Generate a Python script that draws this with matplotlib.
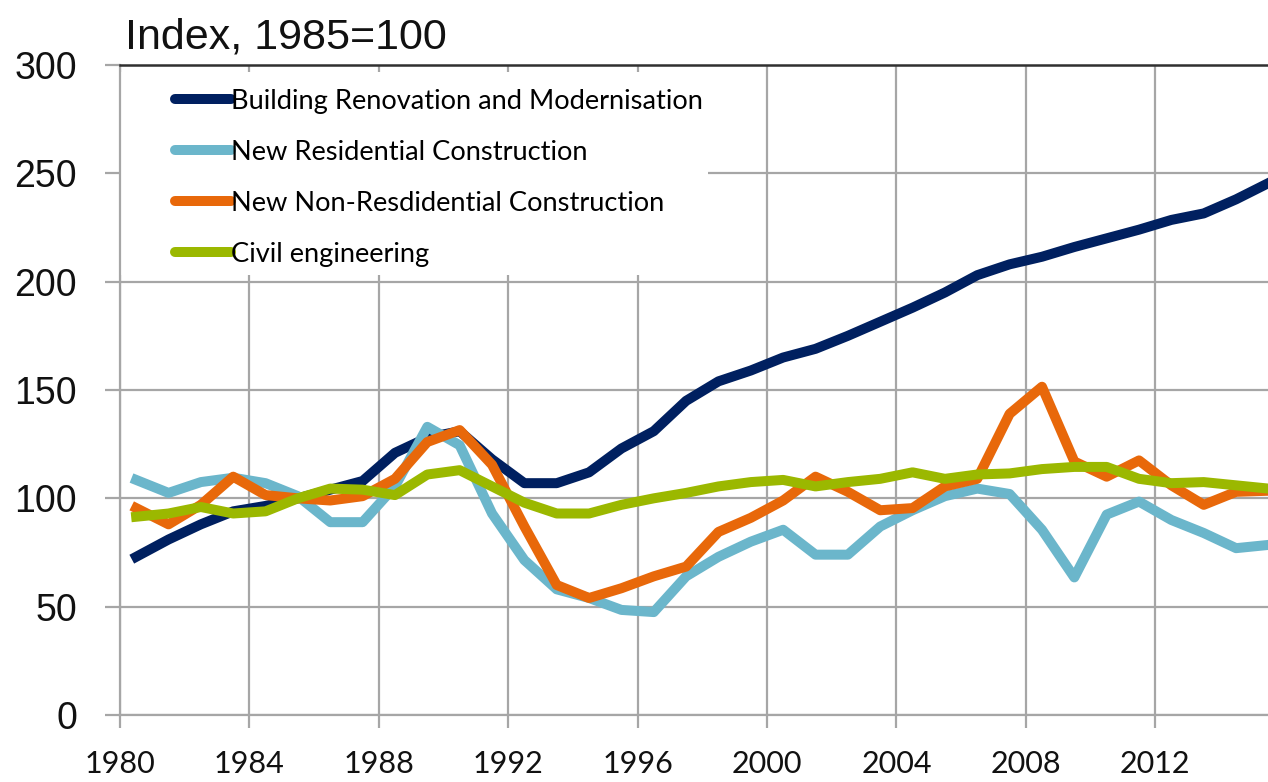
import matplotlib
matplotlib.use('Agg')
import matplotlib.pyplot as plt
import matplotlib.patches as mpatches
import numpy as np

years = np.arange(1980, 2016)

renovation = [73, 81, 88, 94, 96.5, 100, 104, 108, 121, 128, 131, 118, 107, 107, 112, 123, 131, 145, 154,
              159, 165, 169, 175, 181.5, 188, 195, 203, 208, 211.5, 216, 220, 224, 228.5, 231.5, 238, 245.5]
residential = [108.5, 102.5, 107.5, 109.5, 107, 101, 89, 89, 105.5, 133, 124.5, 93, 71.5, 58, 54, 48.5, 47.5,
               64, 73, 80, 85.5, 74, 74, 87, 94.5, 101, 104.5, 102, 85.5, 63.5, 92.5, 98.5, 90, 84, 77, 78.5]
non_residential = [95.5, 88, 97, 110, 101.5, 100, 99, 101, 109, 126, 131.5, 115.5, 87, 60, 54, 58.5, 64,
                   68.5, 84.5, 91, 99, 110, 103, 94.5, 95.5, 105.5, 109, 139, 151.5, 117, 110, 117.5, 106,
                   97, 103, 103.5]
civil = [91.5, 93, 96, 93, 94, 100, 104.5, 104, 101.5, 111, 113, 105.5, 98, 93, 93, 97, 100, 102.5, 105.5,
         107.5, 108.5, 105.5, 107.5, 109, 112, 109, 111, 111.5, 113.5, 114.5, 114.5, 109, 107, 107.5, 106, 104.5]

labels = ['Building Renovation and Modernisation', 'New Residential Construction',
          'New Non-Resdidential Construction', 'Civil engineering']
colors = ['#002060', '#6BB6CB', '#E8680A', '#9BB800']
series = [renovation, residential, non_residential, civil]

fig = plt.figure(figsize=(12.68, 7.82), dpi=100)
ax = fig.add_axes([120 / 1268, 1 - 715 / 782, 1148 / 1268, 650 / 782])

x = years + 0.5
for vals, col, lab in zip(series, colors, labels):
    ax.plot(x, vals, color=col, lw=7.2, label=lab, solid_joinstyle='round', zorder=3)

ax.set_xlim(1980, 1980 + 1148 / 32.35)
ax.set_ylim(0, 300)
ax.set_xticks(np.arange(1980, 2016, 4))
ax.set_yticks(np.arange(0, 301, 50))

ax.set_axisbelow(True)
ax.grid(True, color='#a6a6a6', lw=1.6)

ax.spines['right'].set_visible(False)
ax.spines['top'].set_color('#303030')
ax.spines['top'].set_linewidth(1.8)
ax.spines['left'].set_color('#a6a6a6')
ax.spines['left'].set_linewidth(1.6)
ax.spines['bottom'].set_color('#a6a6a6')
ax.spines['bottom'].set_linewidth(1.6)

ax.tick_params(axis='y', direction='out', length=11, width=1.6, color='#a6a6a6', pad=20,
               labelsize=27, labelcolor='#111111')
ax.tick_params(axis='x', direction='out', length=9.5, width=1.6, color='#a6a6a6', pad=16,
               labelsize=22, labelcolor='#111111')
for t in ax.get_yticklabels():
    t.set_family('Liberation Sans')
for t in ax.get_xticklabels():
    t.set_family('Lato')

# white area behind the legend, hiding the grid
ax.add_patch(mpatches.Rectangle((0.001, 1 - 210 / 650), 0.511, 203 / 650, transform=ax.transAxes,
                                facecolor='white', edgecolor='none', zorder=1))

leg = ax.legend(loc='upper left', bbox_to_anchor=(55 / 1148, 1 - 24 / 650), frameon=False,
                borderpad=0, borderaxespad=0, handlelength=2.05, handletextpad=0.0,
                labelspacing=0.95, prop={'family': 'Lato', 'size': 19.6})
for h in leg.get_lines():
    h.set_linewidth(7.2)
    h.set_solid_capstyle('round')

fig.text(125 / 1268, 1 - 48 / 782, 'Index, 1985=100', fontsize=31, family='Liberation Sans',
         va='baseline', ha='left', color='#111111')

fig.savefig('out.png', dpi=100)
